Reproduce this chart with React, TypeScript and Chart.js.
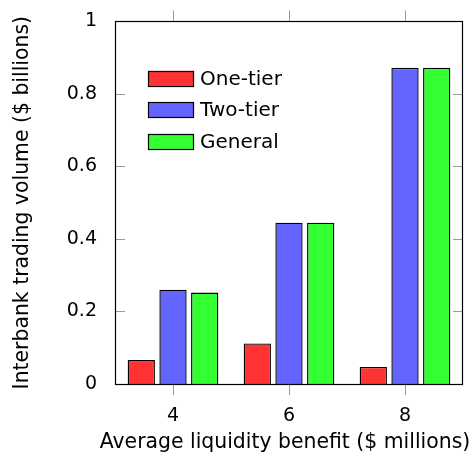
import React, { useEffect, useRef } from "react";
import { Chart, registerables } from "chart.js";

Chart.register(...registerables);

const categories = ["4", "6", "8"];
const seriesLabels = ["One-tier", "Two-tier", "General"];
const oneTier = [0.066, 0.112, 0.047];
const twoTier = [0.26, 0.445, 0.872];
const general = [0.252, 0.445, 0.872];
const yTicks = [0, 0.2, 0.4, 0.6, 0.8, 1];
const seriesColors = ["#ff3333", "#6464ff", "#33ff33"];
const xTitle = "Average liquidity benefit ($ millions)";
const yTitle = "Interbank trading volume ($ billions)";

const FONT = "'DejaVu Sans', sans-serif";
const FONT_SIZE = 19;
const LEGEND_SIZE = 20;
const TITLE_SIZE = 20.4;

const framePlugin = {
  id: "pgfFrame",
  afterDatasetsDraw(chart: any) {
    const { ctx, chartArea } = chart;
    const { left, right, top, bottom } = chartArea;
    const xs = chart.scales.x;
    const ys = chart.scales.y;
    ctx.save();
    // tick marks
    ctx.strokeStyle = "#9a9a9a";
    ctx.lineWidth = 1;
    ctx.beginPath();
    for (let i = 0; i < categories.length; i++) {
      const px = Math.round(xs.getPixelForTick(i)) + 0.5;
      ctx.moveTo(px, bottom);
      ctx.lineTo(px, bottom + 11);
      ctx.moveTo(px, top);
      ctx.lineTo(px, top - 11);
    }
    for (const v of yTicks) {
      const py = Math.round(ys.getPixelForValue(v)) + 0.5;
      ctx.moveTo(left, py);
      ctx.lineTo(left + 10, py);
      ctx.moveTo(right, py);
      ctx.lineTo(right - 10, py);
    }
    ctx.stroke();
    // frame
    ctx.strokeStyle = "#000";
    ctx.lineWidth = 1.2;
    ctx.strokeRect(Math.round(left) + 0.5, Math.round(top) + 0.5, Math.round(right - left) - 1, Math.round(bottom - top));
    // legend
    const datasets = chart.data.datasets;
    const bx = left + 33;
    const by0 = top + 57;
    const step = 31.5;
    ctx.font = `${LEGEND_SIZE}px ${FONT}`;
    ctx.textBaseline = "middle";
    ctx.textAlign = "left";
    ctx.lineWidth = 1.2;
    datasets.forEach((ds: any, i: number) => {
      const cy = by0 + i * step;
      ctx.fillStyle = ds.backgroundColor;
      ctx.fillRect(bx, cy - 7.5, 46, 15);
      ctx.strokeStyle = "#000";
      ctx.strokeRect(Math.round(bx) + 0.5, Math.round(cy - 7.5) + 0.5, 45, 15);
      ctx.fillStyle = "#000";
      ctx.fillText(ds.label, bx + 52, cy + 1);
    });
    // axis titles
    ctx.font = `${TITLE_SIZE}px ${FONT}`;
    ctx.fillStyle = "#000";
    ctx.textAlign = "center";
    ctx.textBaseline = "alphabetic";
    ctx.fillText(xTitle, (left + right) / 2 - 4, bottom + 64);
    ctx.translate(27.5, (top + bottom) / 2);
    ctx.rotate(-Math.PI / 2);
    ctx.fillText(yTitle, 0, 0);
    ctx.restore();
  },
};

export default function App() {
  const ref = useRef<HTMLCanvasElement | null>(null);
  useEffect(() => {
    document.body.style.margin = "0";
    const canvas = ref.current;
    if (!canvas) return;
    const values = [oneTier, twoTier, general];
    const chart = new Chart(canvas, {
      type: "bar",
      data: {
        labels: categories,
        datasets: seriesLabels.map((label, i) => ({
          label,
          data: values[i],
          backgroundColor: seriesColors[i],
          borderColor: "#000",
          borderWidth: 1.4,
          borderSkipped: "start",
          categoryPercentage: 0.82,
          barPercentage: 0.86,
        })),
      },
      options: {
        responsive: false,
        animation: false,
        layout: { padding: { top: 19, right: 13, left: 0, bottom: 0 } },
        plugins: { legend: { display: false }, tooltip: { enabled: false } },
        scales: {
          x: {
            grid: { display: false },
            border: { display: false },
            ticks: { color: "#000", font: { family: FONT, size: FONT_SIZE }, padding: 13 },
            afterFit: (s: any) => {
              s.height = 72;
            },
          },
          y: {
            min: 0,
            max: 1,
            grid: { display: false },
            border: { display: false },
            afterBuildTicks: (s: any) => {
              s.ticks = yTicks.map((v) => ({ value: v }));
            },
            ticks: {
              color: "#000",
              font: { family: FONT, size: FONT_SIZE },
              padding: 10,
              callback: (v: any) => String(+Number(v).toFixed(1)),
            },
            afterFit: (s: any) => {
              s.width = 115;
            },
          },
        },
      },
      plugins: [framePlugin],
    });
    return () => chart.destroy();
  }, []);
  return (
    <div style={{ width: 476, height: 456 }}>
      <canvas ref={ref} width={476} height={456} />
    </div>
  );
}
